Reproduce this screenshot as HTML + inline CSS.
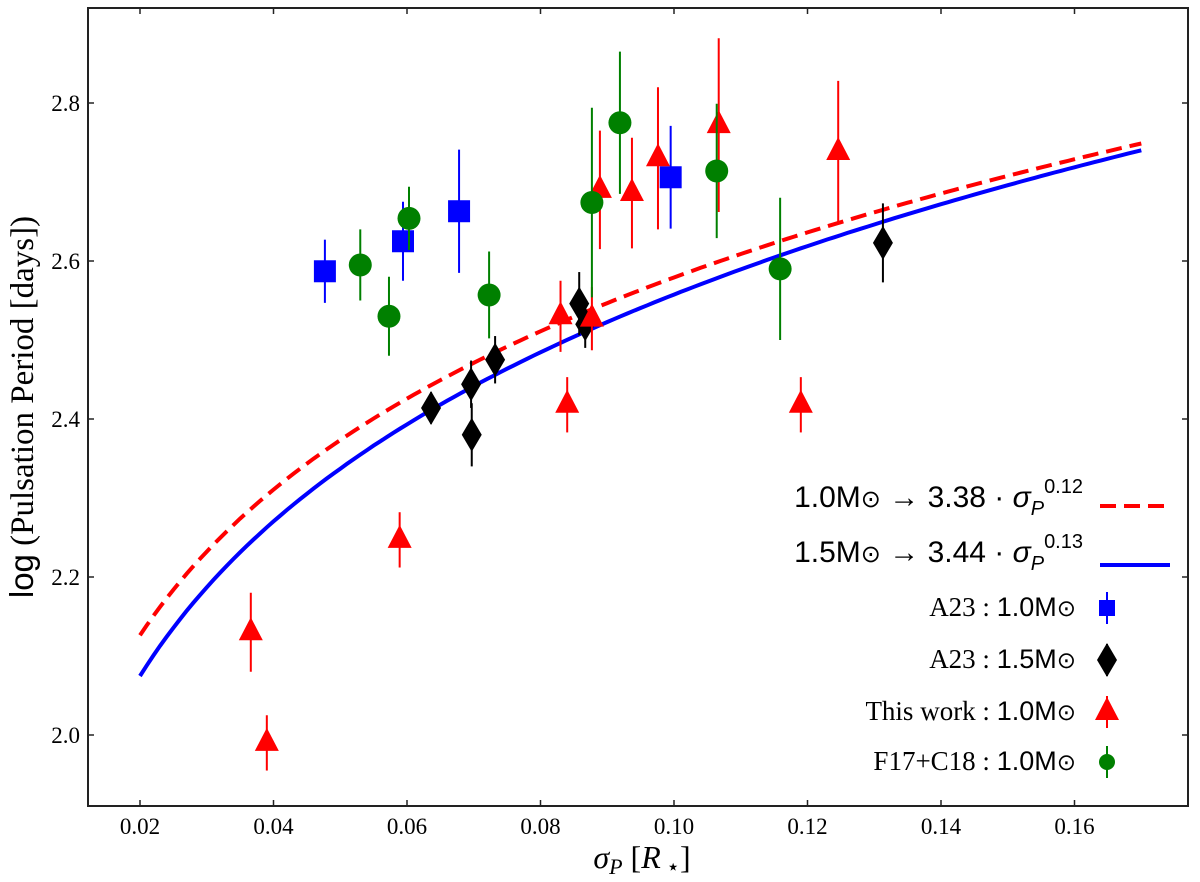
<!DOCTYPE html>
<html><head><meta charset="utf-8"><style>
body{margin:0;background:#fff}
svg{display:block}
text{font-family:"Liberation Serif",serif;fill:#000}
</style></head><body>
<svg id="c" width="1200" height="882"></svg>
<script>
const xTicks=[0.02,0.04,0.06,0.08,0.10,0.12,0.14,0.16];
const xTickLabels=["0.02","0.04","0.06","0.08","0.10","0.12","0.14","0.16"];
const yTicks=[2.0,2.2,2.4,2.6,2.8];
const yTickLabels=["2.0","2.2","2.4","2.6","2.8"];
const a23m10X=[0.0477,0.0594,0.0678,0.0995];
const a23m10Y=[2.587,2.625,2.663,2.706];
const a23m10E=[0.04,0.05,0.078,0.065];
const a23m15X=[0.0636,0.0696,0.0697,0.0732,0.0858,0.0867,0.1313];
const a23m15Y=[2.414,2.444,2.380,2.475,2.546,2.520,2.623];
const a23m15E=[0.02,0.03,0.04,0.03,0.04,0.03,0.05];
const twX=[0.0366,0.039,0.0589,0.083,0.084,0.0877,0.0889,0.0937,0.0976,0.1067,0.119,0.1246];
const twY=[2.13,1.99,2.247,2.53,2.418,2.527,2.69,2.686,2.73,2.772,2.418,2.738];
const twE=[0.05,0.035,0.035,0.045,0.035,0.04,0.075,0.07,0.09,0.11,0.035,0.09];
const fcX=[0.053,0.0573,0.0603,0.0723,0.0877,0.0919,0.1064,0.1159];
const fcY=[2.595,2.53,2.654,2.557,2.674,2.775,2.714,2.59];
const fcE=[0.045,0.05,0.04,0.055,0.12,0.09,0.085,0.09];
const fitRed=[3.40,0.12];
const fitBlue=[3.45,0.13];

const svg=document.getElementById('c');
const NS='http://www.w3.org/2000/svg';
const X=v=>140+(v-0.02)*6675;
const Y=v=>735-(v-2.0)*790;
function mk(tag,at,parent){const e=document.createElementNS(NS,tag);for(const k in at)e.setAttribute(k,at[k]);(parent||svg).appendChild(e);return e;}

const frame=mk('rect',{x:88,y:8,width:1100,height:798,fill:'none',stroke:'#222','stroke-width':2});



xTicks.forEach((t,i)=>{
  const l=mk('line',{x1:X(t),x2:X(t),y1:806,y2:800,stroke:'#222','stroke-width':1.5});
  
  
  const l2=mk('line',{x1:X(t),x2:X(t),y1:8,y2:14,stroke:'#222','stroke-width':1.5});
  
  
  const tx=mk('text',{x:X(t),y:834,'text-anchor':'middle','font-size':23});
  tx.textContent=xTickLabels[i];
  
  
});
yTicks.forEach((t,i)=>{
  const l=mk('line',{x1:88,x2:94,y1:Y(t),y2:Y(t),stroke:'#222','stroke-width':1.5});
  
  
  const l2=mk('line',{x1:1188,x2:1182,y1:Y(t),y2:Y(t),stroke:'#222','stroke-width':1.5});
  
  
  const tx=mk('text',{x:80,y:Y(t)+8,'text-anchor':'end','font-size':23});
  tx.textContent=yTickLabels[i];
  
  
});

function curve(fit,color,dash,name){
  let d='';
  for(let i=0;i<=150;i++){const v=0.02+i*0.001;d+=(i?'L':'M')+X(v).toFixed(1)+','+Y(fit[0]*Math.pow(v,fit[1])).toFixed(1);}
  const p=mk('path',{d:d,fill:'none',stroke:color,'stroke-width':4,'stroke-dasharray':dash});
  
  
}
curve(fitBlue,'#0000ff','none','fit-curve-1p5msun');
curve(fitRed,'#ff0000','16,8','fit-curve-1p0msun');

function marker(shape,cx,cy,color,parent){
  if(shape==='sq')return mk('rect',{x:cx-11,y:cy-11,width:22,height:22,fill:color},parent);
  if(shape==='ci')return mk('circle',{cx:cx,cy:cy,r:11.5,fill:color},parent);
  if(shape==='tr')return mk('polygon',{points:`${cx},${cy-15} ${cx+12},${cy+8} ${cx-12},${cy+8}`,fill:color},parent);
  return mk('polygon',{points:`${cx},${cy-17} ${cx+10},${cy} ${cx},${cy+17} ${cx-10},${cy}`,fill:color},parent);
}
function series(xs,ys,es,shape,color,name){
  const g=mk('g',{});
  
  
  xs.forEach((x,i)=>{
    mk('line',{x1:X(x),x2:X(x),y1:Y(ys[i]-es[i]),y2:Y(ys[i]+es[i]),stroke:color,'stroke-width':2},g);
    const m=marker(shape,X(x),Y(ys[i]),color,g);
    
    
  });
}
series(a23m10X,a23m10Y,a23m10E,'sq','#0000ff','a23-1p0-series');
series(a23m15X,a23m15Y,a23m15E,'di','#000000','a23-1p5-series');
series(twX,twY,twE,'tr','#ff0000','this-work-series');
series(fcX,fcY,fcE,'ci','#008000','f17-c18-series');

// legend
const lg=mk('g',{});


function lt(y,html,font){const t=mk('text',{x:1083,y:y,'text-anchor':'end','font-size':30},lg);t.innerHTML=html;if(font)t.style.fontFamily=font;}
lt(507,'1.0M<tspan font-size="24">⊙</tspan> → 3.38 · <tspan font-style="italic">σ</tspan><tspan font-size="20" dy="8" font-style="italic">P</tspan><tspan font-size="20" dy="-22">0.12</tspan>','"Liberation Sans",sans-serif');
lt(562,'1.5M<tspan font-size="24">⊙</tspan> → 3.44 · <tspan font-style="italic">σ</tspan><tspan font-size="20" dy="8" font-style="italic">P</tspan><tspan font-size="20" dy="-22">0.13</tspan>','"Liberation Sans",sans-serif');
const l1=mk('line',{x1:1100,x2:1170,y1:506,y2:506,stroke:'#ff0000','stroke-width':4,'stroke-dasharray':'16,8'},lg);


const l2=mk('line',{x1:1100,x2:1170,y1:565,y2:565,stroke:'#0000ff','stroke-width':4},lg);


const ents=[[616,'A23 : ','1.0M','sq','#0000ff'],[668,'A23 : ','1.5M','di','#000000'],[720,'This work : ','1.0M','tr','#ff0000'],[770,'F17+C18 : ','1.0M','ci','#008000']];
ents.forEach(e=>{
  const t=mk('text',{x:1076,y:e[0],'text-anchor':'end','font-size':27},lg);
  t.innerHTML=e[1]+'<tspan font-family="Liberation Sans, sans-serif">'+e[2]+'<tspan font-size="23">⊙</tspan></tspan>';
  
  
  mk('line',{x1:1107,x2:1107,y1:e[0]-24,y2:e[0]+8,stroke:e[4],'stroke-width':2},lg);
  const m=marker(e[3],1107,e[0]-8,e[4],lg);
  if(e[3]==='sq'){m.setAttribute('width',16);m.setAttribute('height',16);m.setAttribute('x',1099);m.setAttribute('y',e[0]-16);}
  if(e[3]==='ci'){m.setAttribute('r',8);}
  
  
});

const xl=mk('text',{x:642,y:868,'text-anchor':'middle','font-size':32});
xl.innerHTML='<tspan font-style="italic">σ</tspan><tspan font-style="italic" font-size="22" dy="6">P</tspan><tspan dy="-6"> [</tspan><tspan font-style="italic">R</tspan><tspan font-size="22" dy="6"> ⋆</tspan><tspan dy="-6">]</tspan>';


const yl=mk('text',{x:0,y:0,'text-anchor':'middle','font-size':33,transform:'translate(33,407) rotate(-90)'});
yl.innerHTML='<tspan font-family="Liberation Sans, sans-serif">log</tspan> (Pulsation Period [days])';


</script>
</body></html>
